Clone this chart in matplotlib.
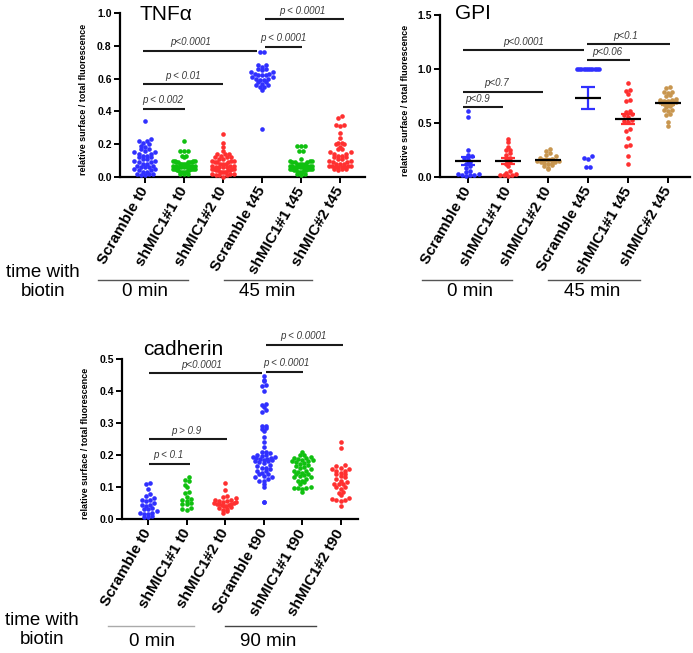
import numpy as np
import matplotlib
matplotlib.use('Agg')
import matplotlib.pyplot as plt
from matplotlib.lines import Line2D

plt.rcParams['font.family'] = ['Liberation Sans', 'DejaVu Sans']

# Кольори груп
BLUE = '#3030ff'
GREEN = '#10c010'
RED = '#ff3030'
TAN = '#c8964f'

# ---------- TNFa ----------
tnf_labels = ['Scramble t0', 'shMIC1#1 t0', 'shMIC1#2 t0',
              'Scramble t45', 'shMIC1#1 t45', 'shMIC#2 t45']
tnf_colors = [BLUE, GREEN, RED, BLUE, GREEN, RED]
tnf_scr_t0 = [0.34, 0.23, 0.22, 0.22, 0.21, 0.2, 0.19, 0.18, 0.17, 0.17, 0.16, 0.15, 0.15,
              0.14, 0.14, 0.13, 0.13, 0.12, 0.12, 0.11, 0.11, 0.1, 0.1, 0.09, 0.09, 0.08, 0.08,
              0.07, 0.07, 0.06, 0.06, 0.06, 0.05, 0.05, 0.04, 0.04, 0.03, 0.03, 0.02, 0.02,
              0.02, 0.01, 0.01]
tnf_sh1_t0 = [0.22, 0.16, 0.16, 0.16, 0.13, 0.13, 0.12, 0.1, 0.1, 0.1, 0.1, 0.09, 0.09, 0.09,
              0.09, 0.09, 0.08, 0.08, 0.08, 0.08, 0.08, 0.07, 0.07, 0.07, 0.07, 0.07, 0.06,
              0.06, 0.06, 0.06, 0.05, 0.05, 0.05, 0.05, 0.05, 0.04, 0.04, 0.04, 0.04, 0.03,
              0.03, 0.03, 0.03, 0.02, 0.02, 0.02]
tnf_sh2_t0 = [0.26, 0.21, 0.18, 0.16, 0.14, 0.14, 0.14, 0.13, 0.12, 0.12, 0.12, 0.11, 0.11,
              0.1, 0.1, 0.1, 0.09, 0.09, 0.09, 0.08, 0.08, 0.08, 0.07, 0.07, 0.07, 0.06, 0.06,
              0.06, 0.06, 0.05, 0.05, 0.05, 0.05, 0.04, 0.04, 0.04, 0.04, 0.03, 0.03, 0.03,
              0.03, 0.02, 0.02, 0.02, 0.01, 0.01, 0.01, 0.0]
tnf_scr_t45 = [0.76, 0.76, 0.68, 0.68, 0.67, 0.66, 0.66, 0.65, 0.64, 0.64, 0.63, 0.63, 0.62,
               0.62, 0.62, 0.61, 0.61, 0.6, 0.6, 0.59, 0.59, 0.58, 0.58, 0.57, 0.56, 0.56,
               0.55, 0.55, 0.53, 0.29]
tnf_sh1_t45 = [0.19, 0.19, 0.19, 0.16, 0.16, 0.11, 0.1, 0.1, 0.1, 0.09, 0.09, 0.09, 0.08,
               0.08, 0.08, 0.08, 0.07, 0.07, 0.07, 0.07, 0.07, 0.06, 0.06, 0.06, 0.06, 0.06,
               0.05, 0.05, 0.05, 0.05, 0.05, 0.04, 0.04, 0.04, 0.04, 0.03, 0.03, 0.03, 0.02,
               0.02, 0.01]
tnf_sh2_t45 = [0.37, 0.36, 0.32, 0.32, 0.31, 0.27, 0.24, 0.21, 0.21, 0.2, 0.2, 0.18, 0.17,
               0.17, 0.15, 0.15, 0.14, 0.14, 0.13, 0.13, 0.12, 0.12, 0.11, 0.11, 0.1, 0.1,
               0.09, 0.09, 0.08, 0.08, 0.08, 0.07, 0.07, 0.07, 0.07, 0.06, 0.06, 0.06, 0.06,
               0.05, 0.05, 0.05, 0.04]
tnf_data = [tnf_scr_t0, tnf_sh1_t0, tnf_sh2_t0, tnf_scr_t45, tnf_sh1_t45, tnf_sh2_t45]
# (x0, x1, y, текст, x тексту)
tnf_pvals = [(-0.05, 1.03, 0.415, 'p < 0.002', 0.46),
             (-0.05, 2.0, 0.567, 'p < 0.01', 0.97),
             (-0.05, 2.87, 0.77, 'p<0.0001', 1.18),
             (3.08, 4.03, 0.795, 'p < 0.0001', 3.56),
             (3.08, 5.1, 0.963, 'p < 0.0001', 4.03)]

# ---------- GPI ----------
gpi_labels = ['Scramble t0', 'shMIC1#1 t0', 'shMIC1#2 t0',
              'Scramble t45', 'shMIC1#1 t45', 'shMIC#2 t45']
gpi_colors = [BLUE, RED, TAN, BLUE, RED, TAN]
gpi_scr_t0 = [0.61, 0.56, 0.25, 0.2, 0.19, 0.18, 0.17, 0.14, 0.12, 0.1, 0.08, 0.06, 0.05,
              0.03, 0.03, 0.02, 0.02, 0.02, 0.01]
gpi_sh1_t0 = [0.35, 0.32, 0.28, 0.25, 0.25, 0.22, 0.2, 0.18, 0.16, 0.15, 0.12, 0.1, 0.06,
              0.04, 0.03, 0.02, 0.02, 0.02, 0.01]
gpi_sh2_t0 = [0.26, 0.24, 0.22, 0.2, 0.19, 0.18, 0.17, 0.16, 0.16, 0.15, 0.15, 0.14, 0.14,
              0.13, 0.13, 0.12, 0.11, 0.1, 0.08, 0.07]
gpi_scr_t45 = [1.0, 1.0, 1.0, 1.0, 1.0, 1.0, 1.0, 1.0, 1.0, 1.0, 1.0,
               0.19, 0.18, 0.17, 0.09, 0.09]
gpi_sh1_t45 = [0.87, 0.81, 0.8, 0.77, 0.71, 0.7, 0.61, 0.6, 0.58, 0.57, 0.56, 0.53, 0.52,
               0.51, 0.44, 0.43, 0.36, 0.3, 0.29, 0.19, 0.12]
gpi_sh2_t45 = [0.83, 0.82, 0.79, 0.79, 0.78, 0.76, 0.75, 0.72, 0.71, 0.71, 0.7, 0.7, 0.69,
               0.69, 0.68, 0.68, 0.67, 0.66, 0.65, 0.62, 0.62, 0.61, 0.58, 0.57, 0.51, 0.47]
gpi_data = [gpi_scr_t0, gpi_sh1_t0, gpi_sh2_t0, gpi_scr_t45, gpi_sh1_t45, gpi_sh2_t45]
gpi_pvals = [(-0.13, 0.88, 0.648, 'p<0.9', 0.23),
             (-0.13, 1.88, 0.79, 'p<0.7', 0.72),
             (-0.13, 2.9, 1.176, 'p<0.0001', 1.38),
             (2.98, 4.05, 1.083, 'p<0.06', 3.48),
             (2.98, 5.05, 1.23, 'p<0.1', 3.93)]

# ---------- cadherin ----------
cad_labels = ['Scramble t0', 'shMIC1#1 t0', 'shMIC1#2 t0',
              'Scramble t90', 'shMIC1#1 t90', 'shMIC1#2 t90']
cad_colors = [BLUE, GREEN, RED, BLUE, GREEN, RED]
cad_scr_t0 = [0.113, 0.108, 0.093, 0.077, 0.072, 0.065, 0.06, 0.058, 0.055, 0.05, 0.045,
              0.043, 0.04, 0.035, 0.032, 0.03, 0.025, 0.02, 0.018, 0.016, 0.015, 0.01, 0.007,
              0.005]
cad_sh1_t0 = [0.13, 0.122, 0.118, 0.105, 0.1, 0.085, 0.08, 0.07, 0.062, 0.058, 0.056, 0.05,
              0.048, 0.046, 0.035, 0.03, 0.027]
cad_sh2_t0 = [0.113, 0.09, 0.072, 0.07, 0.065, 0.06, 0.058, 0.056, 0.055, 0.053, 0.052, 0.05,
              0.05, 0.048, 0.047, 0.046, 0.045, 0.044, 0.042, 0.04, 0.038, 0.035, 0.032,
              0.028, 0.025, 0.018]
cad_scr_t90 = [0.447, 0.434, 0.432, 0.418, 0.415, 0.4, 0.36, 0.355, 0.35, 0.34, 0.335, 0.29,
               0.29, 0.285, 0.28, 0.275, 0.255, 0.24, 0.225, 0.21, 0.21, 0.205, 0.2, 0.2,
               0.198, 0.195, 0.193, 0.19, 0.19, 0.188, 0.186, 0.185, 0.183, 0.18, 0.18, 0.178,
               0.175, 0.17, 0.165, 0.16, 0.16, 0.155, 0.15, 0.15, 0.145, 0.14, 0.14, 0.135,
               0.13, 0.13, 0.125, 0.12, 0.12, 0.11, 0.1, 0.053, 0.052]
cad_sh1_t90 = [0.21, 0.2, 0.2, 0.195, 0.19, 0.19, 0.188, 0.185, 0.183, 0.18, 0.18, 0.178,
               0.175, 0.172, 0.17, 0.165, 0.163, 0.16, 0.155, 0.15, 0.15, 0.148, 0.145, 0.14,
               0.14, 0.138, 0.135, 0.13, 0.13, 0.125, 0.12, 0.12, 0.115, 0.11, 0.1, 0.098,
               0.097, 0.096, 0.095, 0.085]
cad_sh2_t90 = [0.24, 0.222, 0.17, 0.167, 0.16, 0.155, 0.155, 0.15, 0.15, 0.145, 0.14, 0.14,
               0.135, 0.13, 0.125, 0.12, 0.115, 0.11, 0.11, 0.11, 0.1, 0.1, 0.095, 0.085,
               0.08, 0.075, 0.065, 0.062, 0.06, 0.06, 0.055, 0.04]
cad_data = [cad_scr_t0, cad_sh1_t0, cad_sh2_t0, cad_scr_t90, cad_sh1_t90, cad_sh2_t90]
cad_pvals = [(0.03, 1.09, 0.172, 'p < 0.1', 0.52),
             (0.03, 2.05, 0.25, 'p > 0.9', 0.99),
             (0.03, 2.96, 0.456, 'p<0.0001', 1.38),
             (3.06, 4.03, 0.46, 'p < 0.0001', 3.58),
             (3.06, 5.06, 0.544, 'p < 0.0001', 4.03)]

W, H = 693, 653
fig = plt.figure(figsize=(W / 100, H / 100), dpi=100)


def axes_px(left, top, right, bottom):
    return fig.add_axes([left / W, 1 - bottom / H, (right - left) / W, (bottom - top) / H])


def swarm_offsets(ax, vals, d_px=4.2, max_half_px=11.0):
    # розкладка точок рядами, як у GraphPad
    pos = ax.get_position()
    x0, x1 = ax.get_xlim()
    y0, y1 = ax.get_ylim()
    dx = (x1 - x0) / (pos.width * W)
    dy = (y1 - y0) / (pos.height * H)
    vals = np.asarray(vals, dtype=float)
    bins = np.floor(vals / (d_px * dy) + 1e-9).astype(int)
    offs = np.zeros(len(vals))
    for b in np.unique(bins):
        idx = np.where(bins == b)[0]
        idx = idx[np.argsort(vals[idx], kind='stable')]
        n = len(idx)
        step = d_px if n < 2 else min(d_px, 2 * max_half_px / (n - 1))
        slots = (np.arange(n) - (n - 1) / 2) * step
        slots = slots[np.argsort(np.abs(slots), kind='stable')]
        offs[idx] = slots * dx
    return offs


def panel(ax, data, colors, labels, ylim, yticks, title, title_xy, pvals, ylab_x, means=False):
    ax.set_ylim(*ylim)
    for i, (vals, c) in enumerate(zip(data, colors)):
        off = swarm_offsets(ax, vals)
        ax.scatter(i + off, vals, s=11, color=c, linewidths=0, clip_on=False, zorder=3)
        if means:
            m = np.mean(vals)
            sem = np.std(vals, ddof=1) / np.sqrt(len(vals))
            ax.errorbar(i, m, yerr=sem, fmt='none', ecolor=c, elinewidth=1.6,
                        capsize=5, capthick=1.6, zorder=4)
            ax.hlines(m, i - 0.32, i + 0.32, color='black', lw=1.6, zorder=5)
    for x0, x1, y, txt, tx in pvals:
        ax.plot([x0, x1], [y, y], color='#1a1a1a', lw=1.5, clip_on=False, solid_capstyle='butt')
        ax.annotate(txt, xy=(tx, y), xytext=(0, 2.5), textcoords='offset points',
                    ha='center', va='bottom', fontsize=7, fontstyle='italic',
                    color='#3a3a3a', annotation_clip=False)
    ax.set_yticks(yticks, [f'{t:.1f}' for t in yticks], fontweight='bold', fontsize=7.5)
    ax.set_xticks(range(len(labels)), labels, rotation=60, ha='right', va='center',
                  rotation_mode='anchor', fontsize=11, fontweight='bold')
    ax.tick_params(direction='out', length=4, width=1.4, pad=2)
    ax.tick_params(axis='x', pad=4)
    for s in ['top', 'right']:
        ax.spines[s].set_visible(False)
    for s in ['left', 'bottom']:
        ax.spines[s].set_linewidth(1.6)
    ax.set_ylabel('relative surface / total fluorescence', fontsize=6.5, fontweight='bold')
    ax.yaxis.set_label_coords(ylab_x, 0.47)
    ax.text(title_xy[0], title_xy[1], title, transform=ax.transAxes, fontsize=15,
            ha='left', va='center')


def group_lines(items, color_list):
    for (x0, x1, y, txt, tx, ty), c in zip(items, color_list):
        fig.add_artist(Line2D([x0 / W, x1 / W], [1 - y / H, 1 - y / H], color=c, lw=1.0))
        fig.text(tx / W, 1 - ty / H, txt, fontsize=13.5, ha='center', va='center')


ax1 = axes_px(120, 13, 365, 177)
ax1.set_xlim(-0.64, 5.64)
panel(ax1, tnf_data, tnf_colors, tnf_labels, (0, 1.0), np.arange(0, 1.01, 0.2),
      'TNF\u03b1', (0.08, 0.99), tnf_pvals, -0.13)

ax2 = axes_px(440, 15, 690, 177)
ax2.set_xlim(-0.7, 5.55)
panel(ax2, gpi_data, gpi_colors, gpi_labels, (0, 1.5), np.arange(0, 1.51, 0.5),
      'GPI', (0.06, 1.01), gpi_pvals, -0.12, means=True)

ax3 = axes_px(122, 359, 358, 519)
ax3.set_xlim(-0.68, 5.45)
panel(ax3, cad_data, cad_colors, cad_labels, (0, 0.5), np.arange(0, 0.51, 0.1),
      'cadherin', (0.09, 1.06), cad_pvals, -0.135)

# підписи часу з біотином
fig.text(43 / W, 1 - 282 / H, 'time with\nbiotin', fontsize=13.5, ha='center', va='center')
fig.text(42 / W, 1 - 630 / H, 'time with\nbiotin', fontsize=13.5, ha='center', va='center')
group_lines([(98, 188, 280, '0 min', 145, 292), (224, 312, 280, '45 min', 267, 292),
             (422, 512, 280, '0 min', 470, 292), (548, 640, 280, '45 min', 592, 292),
             (108, 194, 626, '0 min', 152, 642), (225, 316, 626, '90 min', 268, 642)],
            ['#555555', '#555555', '#555555', '#555555', '#aaaaaa', '#444444'])

fig.savefig('out.png', dpi=100)
